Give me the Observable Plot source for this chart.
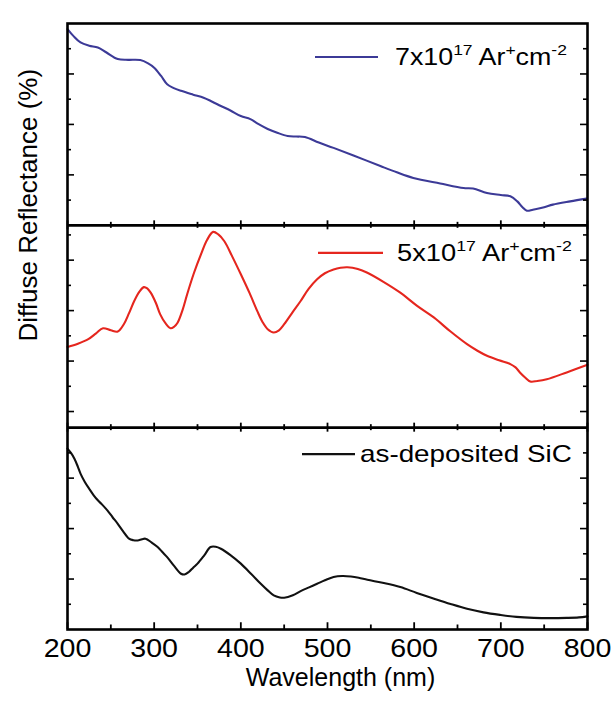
<!DOCTYPE html>
<html><head><meta charset="utf-8">
<script src="https://cdn.jsdelivr.net/npm/d3@7"></script>
<script src="https://cdn.jsdelivr.net/npm/@observablehq/plot@0.6"></script>
<style>body{margin:0;background:#fff}#chart{width:612px;height:702px}</style>
</head><body><div id="chart"></div>
<script>
// ---- data (arbitrary reflectance units, 1 unit = 1 y tick) ----
const wl7 = [200,207,215,225,235,245,258,270,284,293,300,308,315,322,331,345,357,367,377,388,400,411,420,431,442,454,464,474,490,507,530,561,580,599,630,657,668,684,700,711,719,725,730,737,750,760,780,799];
const r7  = [7.78,7.50,7.25,7.12,7.05,6.85,6.59,6.56,6.55,6.42,6.25,5.92,5.59,5.45,5.33,5.18,5.06,4.90,4.73,4.55,4.33,4.21,4.02,3.82,3.67,3.54,3.52,3.50,3.28,3.07,2.77,2.35,2.10,1.88,1.66,1.48,1.46,1.28,1.20,1.15,0.95,0.72,0.58,0.62,0.72,0.82,0.95,1.06];

const wl5 = [200,212,224,233,241,250,258,265,271,277,283,288,292,296,302,307,313,319,323,327,333,338,346,354,361,368,374,381,390,400,410,419,425,431,438,444,450,460,469,478,488,497,507,515,523,535,546,565,584,603,623,642,661,673,684,698,711,717,722,728,734,742,753,776,800];
const r5  = [2.56,2.69,2.87,3.10,3.30,3.22,3.17,3.46,3.90,4.38,4.75,4.93,4.88,4.71,4.30,3.85,3.50,3.30,3.36,3.52,4.05,4.64,5.50,6.23,6.80,7.12,7.02,6.75,6.15,5.44,4.70,3.98,3.55,3.26,3.13,3.22,3.46,3.95,4.38,4.85,5.24,5.48,5.63,5.70,5.72,5.65,5.50,5.13,4.71,4.20,3.72,3.17,2.67,2.41,2.21,2.03,1.88,1.75,1.55,1.35,1.19,1.21,1.28,1.55,1.85];

const wl0 = [200,204,208,212,215,220,225,230,235,240,246,252,258,264,271,276,281,286,290,297,304,310,315,323,331,335,340,345,350,358,365,371,377,388,400,412,423,431,438,445,450,460,469,478,488,497,507,517,527,536,546,565,584,603,623,642,661,680,699,718,738,757,776,790,800];
const r0  = [7.17,7.00,6.77,6.45,6.18,5.85,5.58,5.33,5.12,4.95,4.72,4.45,4.19,3.90,3.60,3.54,3.53,3.58,3.60,3.45,3.27,3.05,2.87,2.52,2.21,2.18,2.28,2.45,2.61,2.95,3.27,3.28,3.20,2.95,2.61,2.20,1.81,1.55,1.35,1.27,1.26,1.36,1.52,1.66,1.81,1.95,2.08,2.12,2.10,2.05,1.97,1.84,1.68,1.45,1.22,1.01,0.82,0.68,0.58,0.50,0.46,0.45,0.46,0.48,0.52];

const seriesNames = ["7x10^17 Ar^+cm^-2", "5x10^17 Ar^+cm^-2", "as-deposited SiC"];
const seriesColors = ["#3c3a97", "#e5261e", "#111111"];
const panelRanges = [[0, 8], [-0.64, 7.38], [0, 8]];   // y-range of each panel (top to bottom)
const xTicks = [200, 300, 400, 500, 600, 700, 800];
const xMinorTicks = [250, 350, 450, 550, 650, 750];
const xLabel = "Wavelength (nm)";
const yLabel = "Diffuse Reflectance (%)";

// ---- layout ----
const W = 612, H = 702, mT = 23, mB = 73, mL = 67, mR = 25;
const font = "'Liberation Sans', Arial, Helvetica, sans-serif";
const frameW = 2.6;

// ---- build panels (top to bottom), stacked on one y scale ----
const series = [[wl7, r7], [wl5, r5], [wl0, r0]];
const panels = series.map(([wl, r], i) => ({name: seriesNames[i], color: seriesColors[i], wl, r, lo: panelRanges[i][0], hi: panelRanges[i][1]}));
let acc = 0;
for (let i = panels.length - 1; i >= 0; --i) { panels[i].offset = acc; acc += panels[i].hi - panels[i].lo; }
const total = acc;
const pxPerUnit = (H - mT - mB) / total;

const lineData = panels.flatMap(p => p.wl.map((w, i) => ({series: p.name, x: w, y: p.r[i] - p.lo + p.offset})));
const yTickData = panels.flatMap(p => d3.range(Math.ceil(p.lo + 1e-6), Math.floor(p.hi - 1e-6) + 1)
  .filter(t => t > p.lo + 0.3 || t === 0).map(t => ({y: t - p.lo + p.offset, major: t % 2 === 0})));
const boundaries = panels.slice(1).map(p => p.offset + (p.hi - p.lo)); // internal panel boundaries
const xt = [...xTicks.map(x => ({x, major: true})), ...xMinorTicks.map(x => ({x, major: false}))];
const hMaj = 4.5 / pxPerUnit, hMin = 3 / pxPerUnit;
const xTickMarks = [
  ...boundaries.flatMap(b => xt.map(t => ({x: t.x, y1: b - (t.major ? hMaj : hMin), y2: b + (t.major ? hMaj : hMin)}))),
  ...xt.map(t => ({x: t.x, y1: 0, y2: (t.major ? 1.5 * hMaj : 1.5 * hMin)}))
];
const plotW = W - mL - mR;

const chart = Plot.plot({
  width: W, height: H, marginTop: mT, marginBottom: mB, marginLeft: mL, marginRight: mR,
  style: {fontFamily: font, background: "#fff", color: "#000"},
  x: {domain: [200, 800]},
  y: {domain: [0, total], axis: null},
  color: {domain: seriesNames, range: seriesColors},
  marks: [
    Plot.line(lineData, {x: "x", y: "y", z: "series", stroke: "series", strokeWidth: 2.1, curve: "catmull-rom"}),
    Plot.ruleY(boundaries, {strokeWidth: frameW, stroke: "#000"}),
    Plot.frame({strokeWidth: frameW, stroke: "#000"}),
    Plot.tickY(yTickData.filter(d => d.major), {y: "y", insetRight: plotW - 7, strokeWidth: 1.6}),
    Plot.tickY(yTickData.filter(d => !d.major), {y: "y", insetRight: plotW - 4, strokeWidth: 1.6}),
    Plot.tickY(yTickData.filter(d => d.major), {y: "y", insetLeft: plotW - 7, strokeWidth: 1.6}),
    Plot.tickY(yTickData.filter(d => !d.major), {y: "y", insetLeft: plotW - 4, strokeWidth: 1.6}),
    Plot.ruleX(xTickMarks, {x: "x", y1: "y1", y2: "y2", strokeWidth: 1.8}),
    Plot.axisX(xTicks, {tickSize: 0, tickPadding: 9, fontSize: 26, label: null, fill: "#000"}),
    Plot.text([xLabel], {text: d => d, frameAnchor: "bottom", dx: 13, dy: 56, fontSize: 25, fill: "#000", ariaLabel: "xlabel"}),
    Plot.text([yLabel], {text: d => d, frameAnchor: "left", rotate: -90, dx: -39, dy: 15, fontSize: 26, fill: "#000", ariaLabel: "ylabel"})
  ]
});
document.getElementById("chart").appendChild(chart);

// ---- legends (one per panel, layout in px) ----
const ys = chart.scale("y");
const legendLayout = [
  {dy: 34, x1: 315, x2: 378, tx: 395, tw: 172},
  {dy: 28, x1: 318, x2: 383, tx: 397, tw: 175},
  {dy: 27, x1: 302, x2: 355, tx: 360, tw: 212}
];
const svg = d3.select(chart);
const gl = svg.append("g").attr("font-family", font).attr("text-anchor", "start");
panels.forEach((p, i) => {
  const L = legendLayout[i];
  const top = ys.apply(p.offset + (p.hi - p.lo));
  const cy = top + L.dy;
  gl.append("line").attr("x1", L.x1).attr("x2", L.x2).attr("y1", cy).attr("y2", cy)
    .attr("stroke", p.color).attr("stroke-width", 2.2);
  const t = gl.append("text").attr("x", 0).attr("y", 0).attr("font-size", 23).attr("fill", "#000").attr("text-anchor", "start");
  const parts = p.name.split(/(\^[^\s\^A-Za-z]+)/).filter(s => s.length);
  parts.forEach(s => {
    if (s.startsWith("^")) t.append("tspan").attr("baseline-shift", "10px").attr("font-size", 15).text(s.slice(1));
    else t.append("tspan").text(s);
  });
  const natural = t.node().getBBox().width;
  t.attr("transform", `translate(${L.tx},${cy + 8}) scale(${L.tw / natural},1)`);
});

// horizontal stretch of axis texts to match the reference proportions
svg.selectAll('g[aria-label="x-axis tick label"] text').each(function() {
  const len = this.getComputedTextLength();
  this.setAttribute("textLength", len * 1.1);
  this.setAttribute("lengthAdjust", "spacingAndGlyphs");
});
svg.selectAll('g[aria-label="xlabel"] text').attr("textLength", 230).attr("lengthAdjust", "spacingAndGlyphs");
svg.selectAll('g[aria-label="ylabel"] text').attr("textLength", 310).attr("lengthAdjust", "spacingAndGlyphs");
</script>
</body></html>
